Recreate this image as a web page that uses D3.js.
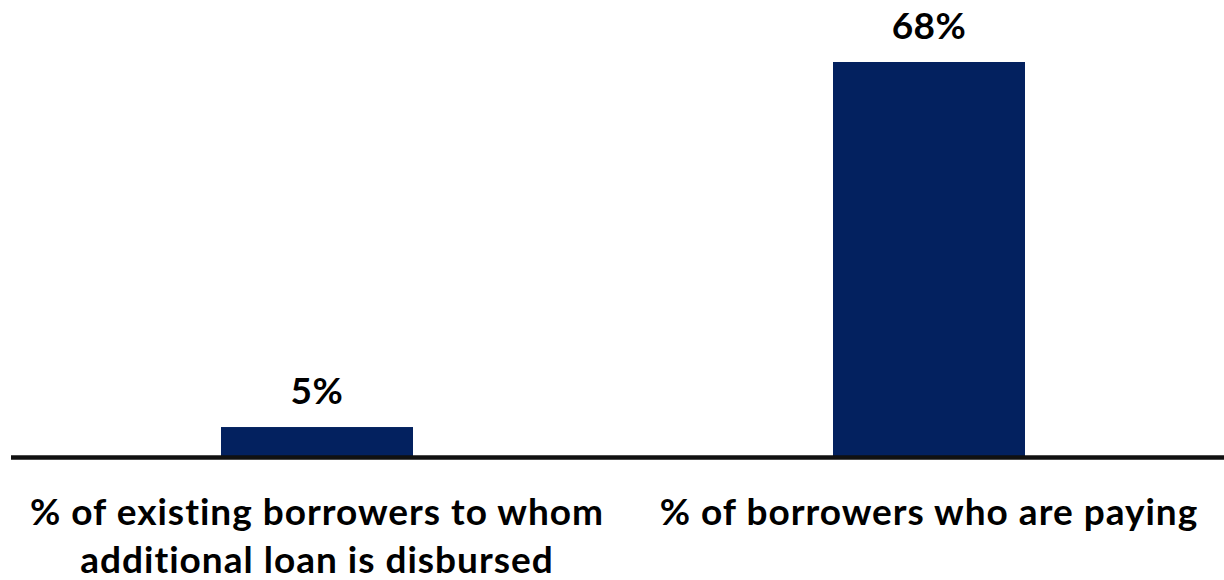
<!DOCTYPE html>
<html>
<head>
<meta charset="utf-8">
<script src="https://cdn.jsdelivr.net/npm/d3@7"></script>
<style>
  html, body { margin: 0; padding: 0; background: #ffffff; }
  svg { display: block; }
  text { font-family: "Lato", "Open Sans", sans-serif; font-weight: 700; fill: #000;
         font-variant-ligatures: none; font-feature-settings: "liga" 0; }
</style>
</head>
<body>
<svg id="chart" width="1224" height="580"></svg>
<script>
// Loan indicators (share of borrowers, %)
const categories = [
  ["% of existing borrowers to whom", "additional loan is disbursed"],
  ["% of borrowers who are paying"]
];
const values = [5, 68];
const valueLabels = ["5%", "68%"];

const W = 1224, H = 580;
const svg = d3.select("#chart");

const x = d3.scalePoint()
  .domain(d3.range(categories.length))
  .range([11, 1235])
  .padding(0.5);

const y = d3.scaleLinear()
  .domain([0, 68])
  .range([456, 62]);

const barW = 192;

// bars
svg.append("g").selectAll("rect")
  .data(values)
  .join("rect")
  .attr("x", (d, i) => x(i) - barW / 2)
  .attr("y", d => y(d))
  .attr("width", barW)
  .attr("height", d => y(0) - y(d))
  .attr("fill", "#03215f");

// baseline
svg.append("line")
  .attr("x1", 11).attr("x2", W)
  .attr("y1", y(0) + 1.5).attr("y2", y(0) + 1.5)
  .attr("stroke", "#111").attr("stroke-width", 4.5);

// value labels above bars
svg.append("g").selectAll("text")
  .data(values)
  .join("text")
  .attr("x", (d, i) => x(i))
  .attr("y", d => y(d) - 23)
  .attr("text-anchor", "middle")
  .style("font-size", "37px")
  .style("letter-spacing", "0.5px")
  .text((d, i) => valueLabels[i]);

// category labels below the axis
const cat = svg.append("g").selectAll("text")
  .data(categories)
  .join("text")
  .attr("text-anchor", "middle")
  .style("font-size", "37px")
  .style("letter-spacing", "1px")
  .attr("transform", (d, i) => `translate(${x(i)},525)`);

cat.selectAll("tspan")
  .data(d => d)
  .join("tspan")
  .attr("x", 0)
  .attr("y", (d, j) => j * 48)
  .text(d => d);
</script>
</body>
</html>
